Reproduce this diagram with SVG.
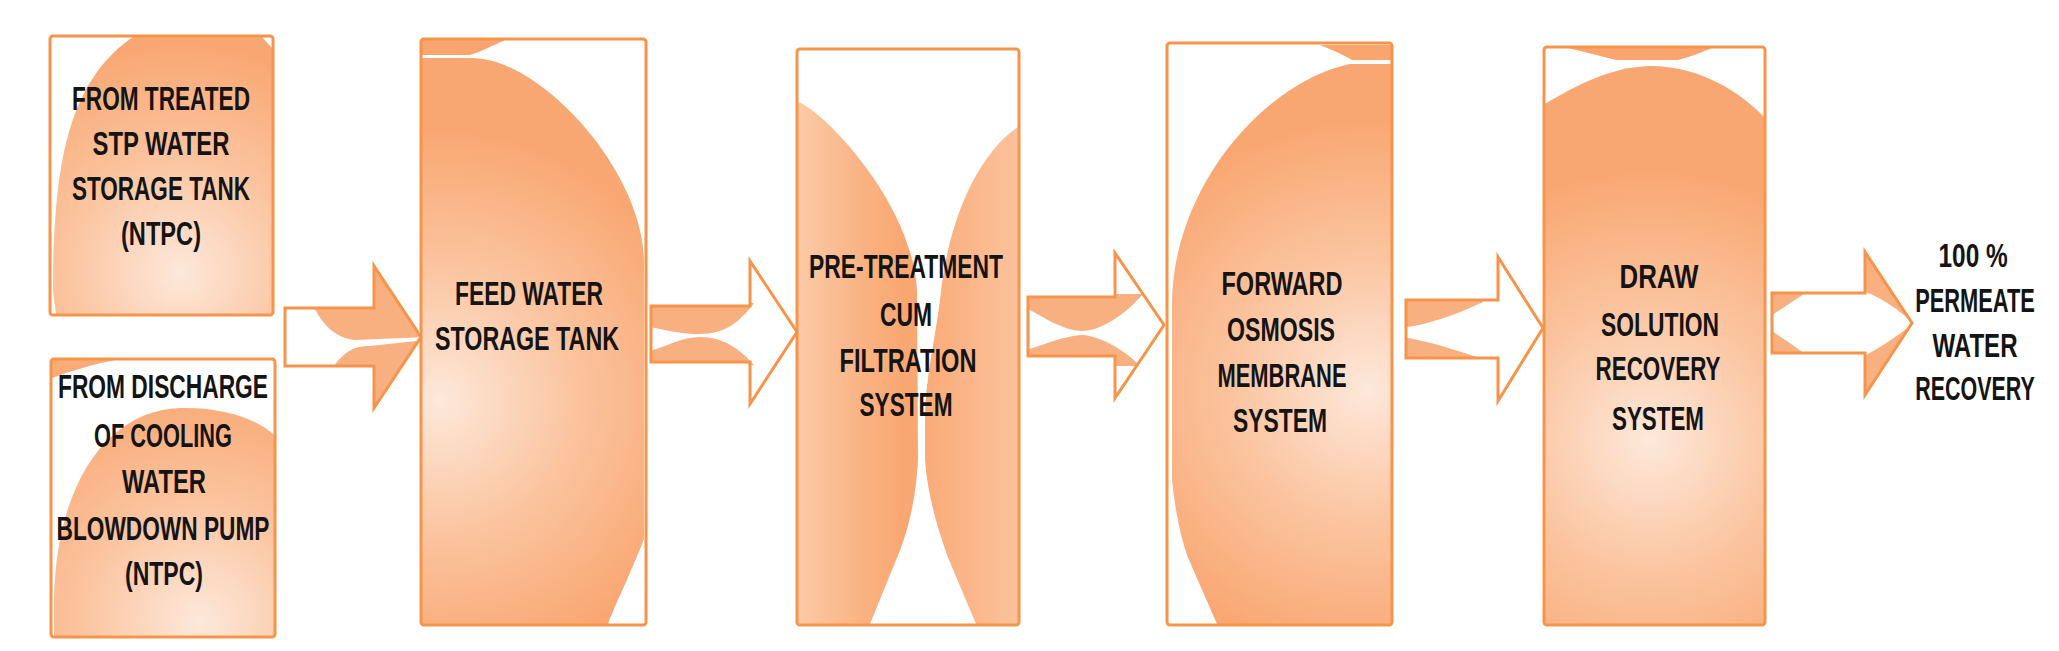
<svg xmlns="http://www.w3.org/2000/svg" width="2059" height="651" viewBox="0 0 2059 651">
<style>
.box{fill:none;stroke:#F7944A;stroke-width:3}
.arr{fill:none;stroke:#F7944A;stroke-width:3;stroke-linejoin:miter}
.lobe{fill:#F9B080}
.t{font-family:"Liberation Sans",Arial,sans-serif;font-weight:bold;font-size:34px;fill:#141414;text-anchor:middle}
</style>
<defs>
<radialGradient id="g1" gradientUnits="userSpaceOnUse" cx="180" cy="273" r="230"><stop offset="0" stop-color="#FDE8DA"/><stop offset="0.5" stop-color="#FBC49F"/><stop offset="1" stop-color="#F9A772"/></radialGradient>
<radialGradient id="g2" gradientUnits="userSpaceOnUse" cx="200" cy="622" r="240"><stop offset="0" stop-color="#FDE8DA"/><stop offset="0.5" stop-color="#FBC49F"/><stop offset="1" stop-color="#F9A772"/></radialGradient>
<radialGradient id="g3" gradientUnits="userSpaceOnUse" cx="440" cy="400" r="270"><stop offset="0" stop-color="#FDE8DA"/><stop offset="0.5" stop-color="#FBC49F"/><stop offset="1" stop-color="#F9A772"/></radialGradient>
<linearGradient id="g4" gradientUnits="userSpaceOnUse" x1="797" y1="0" x2="1019" y2="0"><stop offset="0" stop-color="#FCCBA8"/><stop offset="0.3" stop-color="#FAB282"/><stop offset="0.5" stop-color="#F9A670"/><stop offset="0.7" stop-color="#FAB282"/><stop offset="1" stop-color="#FBC29C"/></linearGradient>
<radialGradient id="g5" gradientUnits="userSpaceOnUse" cx="1367" cy="390" r="270"><stop offset="0" stop-color="#FDE8DA"/><stop offset="0.5" stop-color="#FBC49F"/><stop offset="1" stop-color="#F9A772"/></radialGradient>
<radialGradient id="g6" gradientUnits="userSpaceOnUse" cx="1650" cy="440" r="270"><stop offset="0" stop-color="#FDE8DA"/><stop offset="0.5" stop-color="#FBC49F"/><stop offset="1" stop-color="#F9A772"/></radialGradient>
<clipPath id="ca1"><path d="M285,308 L374,308 L374,266 L421,337 L374,408 L374,366 L285,366 Z"/></clipPath>
<clipPath id="ca2"><path d="M651,306 L750,306 L750,261 L797,332 L750,404 L750,362 L651,362 Z"/></clipPath>
<clipPath id="ca3"><path d="M1028,297 L1115,297 L1115,253 L1164,325 L1115,398 L1115,356 L1028,356 Z"/></clipPath>
<clipPath id="ca4"><path d="M1406,300 L1498,300 L1498,257 L1543,328 L1498,401 L1498,358 L1406,358 Z"/></clipPath>
<clipPath id="ca5"><path d="M1772,293 L1865,293 L1865,252 L1912,323 L1865,395 L1865,353 L1772,353 Z"/></clipPath>
</defs>
<rect width="2059" height="651" fill="#ffffff"/>

<g id="connectors">
 <g id="arrow1">
  <g clip-path="url(#ca1)">
   <path class="lobe" d="M310,300 C322,325 335,338 355,340 L425,337 L425,250 L310,250 Z"/>
   <path class="lobe" d="M331,370 C345,350 355,346 370,346 L425,340 L425,420 L331,420 Z"/>
  </g>
  <path class="arr" d="M285,308 L374,308 L374,266 L421,337 L374,408 L374,366 L285,366 Z"/>
 </g>
 <g id="arrow2">
  <g clip-path="url(#ca2)">
   <path class="lobe" d="M645,300 L645,326 C665,330 680,334 700,334 C725,334 740,322 754,303 Z"/>
   <path class="lobe" d="M645,368 L645,352 C665,348 680,337 700,337 C725,337 740,350 754,365 Z"/>
  </g>
  <path class="arr" d="M651,306 L750,306 L750,261 L797,332 L750,404 L750,362 L651,362 Z"/>
 </g>
 <g id="arrow3">
  <g clip-path="url(#ca3)">
   <path class="lobe" d="M1025,307 C1045,318 1062,330 1082,331 C1100,331 1125,315 1143,294 L1025,294 Z"/>
   <path class="lobe" d="M1025,350 C1045,345 1062,336 1082,335 C1100,336 1125,350 1140,366 L1025,366 Z"/>
  </g>
  <path class="arr" d="M1028,297 L1115,297 L1115,253 L1164,325 L1115,398 L1115,356 L1028,356 Z"/>
 </g>
 <g id="arrow4">
  <g clip-path="url(#ca4)">
   <path class="lobe" d="M1400,328 C1420,326 1450,318 1483,302 L1483,290 L1400,290 Z"/>
   <path class="lobe" d="M1400,337 C1420,339 1450,348 1480,358 L1480,370 L1400,370 Z"/>
  </g>
  <path class="arr" d="M1406,300 L1498,300 L1498,257 L1543,328 L1498,401 L1498,358 L1406,358 Z"/>
 </g>
 <g id="arrow5">
  <g clip-path="url(#ca5)">
   <path class="lobe" d="M1770,290 L1810,290 C1795,300 1782,308 1770,317 Z"/>
   <path class="lobe" d="M1770,330 C1782,338 1795,346 1807,356 L1770,356 Z"/>
   <path class="lobe" d="M1866,250 L1866,292 C1885,300 1898,310 1910,320 L1920,320 L1920,250 Z"/>
   <path class="lobe" d="M1866,396 L1866,355 C1885,345 1898,335 1910,326 L1920,326 L1920,396 Z"/>
  </g>
  <path class="arr" d="M1772,293 L1865,293 L1865,252 L1912,323 L1865,395 L1865,353 L1772,353 Z"/>
 </g>
</g>

<g id="node-stp">
 <path fill="url(#g1)" d="M133,37 L262,37 L272,48 L272,314 L56,314 C54,300 53,292 53,288 C53,160 70,80 133,37 Z"/>
 <rect class="box" x="50" y="36" width="223" height="279" rx="3"/>
 <text class="t" x="161" y="110" textLength="178" lengthAdjust="spacingAndGlyphs">FROM TREATED</text>
 <text class="t" x="161" y="155" textLength="137" lengthAdjust="spacingAndGlyphs">STP WATER</text>
 <text class="t" x="161" y="200" textLength="178" lengthAdjust="spacingAndGlyphs">STORAGE TANK</text>
 <text class="t" x="161" y="245" textLength="80" lengthAdjust="spacingAndGlyphs">(NTPC)</text>
</g>

<g id="node-blowdown">
 <path fill="url(#g2)" d="M54,600 C56,480 110,410 180,408 C225,407 258,420 274,435 L274,636 L54,636 Z"/>
 <path fill="#F9AC78" d="M52,360 L115,360 C90,365 68,372 52,378 Z"/>
 <rect class="box" x="51" y="359" width="224" height="278" rx="3"/>
 <text class="t" x="163" y="398" textLength="210" lengthAdjust="spacingAndGlyphs">FROM DISCHARGE</text>
 <text class="t" x="163" y="447" textLength="138" lengthAdjust="spacingAndGlyphs">OF COOLING</text>
 <text class="t" x="164" y="493" textLength="84" lengthAdjust="spacingAndGlyphs">WATER</text>
 <text class="t" x="163" y="540" textLength="213" lengthAdjust="spacingAndGlyphs">BLOWDOWN PUMP</text>
 <text class="t" x="164" y="585" textLength="78" lengthAdjust="spacingAndGlyphs">(NTPC)</text>
</g>

<g id="node-feed">
 <path fill="url(#g3)" d="M422,58 L472,58 C540,58 643,170 644,261 L644,539 C630,575 615,605 608,624 L422,624 Z"/>
 <path fill="#F9A570" d="M422,40 L505,40 C492,46 480,52 470,55 L422,55 Z"/>
 <rect class="box" x="421" y="39" width="225" height="586" rx="3"/>
 <text class="t" x="529" y="305" textLength="148" lengthAdjust="spacingAndGlyphs">FEED WATER</text>
 <text class="t" x="527" y="350" textLength="184" lengthAdjust="spacingAndGlyphs">STORAGE TANK</text>
</g>

<g id="node-pretreat">
 <path fill="url(#g4)" d="M798,102 C820,108 912,200 917,290 L918,459 C916,505 905,540 896,560 L870,624 L798,624 Z"/>
 <path fill="url(#g4)" d="M1018,127 C990,145 950,200 940,300 C935,340 925,380 925,420 L925,460 C928,500 940,535 949,560 L976,624 L1018,624 Z"/>
 <rect class="box" x="797" y="49" width="222" height="576" rx="3"/>
 <text class="t" x="906" y="278" textLength="194" lengthAdjust="spacingAndGlyphs">PRE-TREATMENT</text>
 <text class="t" x="906" y="326" textLength="52" lengthAdjust="spacingAndGlyphs">CUM</text>
 <text class="t" x="908" y="372" textLength="137" lengthAdjust="spacingAndGlyphs">FILTRATION</text>
 <text class="t" x="906" y="416" textLength="93" lengthAdjust="spacingAndGlyphs">SYSTEM</text>
</g>

<g id="node-fo">
 <path fill="url(#g5)" d="M1391,64 L1350,64 C1270,80 1175,180 1172,300 L1172,480 C1176,520 1184,548 1189,560 L1217,624 L1391,624 Z"/>
 <path fill="#F9A570" d="M1320,45 L1391,45 L1391,60 L1352,60 C1342,54 1330,49 1320,45 Z"/>
 <rect class="box" x="1167" y="43" width="225" height="582" rx="3"/>
 <text class="t" x="1282" y="295" textLength="121" lengthAdjust="spacingAndGlyphs">FORWARD</text>
 <text class="t" x="1281" y="341" textLength="108" lengthAdjust="spacingAndGlyphs">OSMOSIS</text>
 <text class="t" x="1282" y="387" textLength="129" lengthAdjust="spacingAndGlyphs">MEMBRANE</text>
 <text class="t" x="1280" y="432" textLength="94" lengthAdjust="spacingAndGlyphs">SYSTEM</text>
</g>

<g id="node-draw">
 <path fill="url(#g6)" d="M1545,104 C1575,86 1610,67 1650,66 C1700,66 1740,92 1764,117 L1764,624 L1545,624 Z"/>
 <path fill="#F9A570" d="M1568,48 L1712,48 C1700,53 1690,57 1678,60 L1616,60 C1600,56 1585,52 1568,48 Z"/>
 <rect class="box" x="1544" y="47" width="221" height="578" rx="3"/>
 <text class="t" x="1659" y="288" textLength="79" lengthAdjust="spacingAndGlyphs">DRAW</text>
 <text class="t" x="1660" y="336" textLength="118" lengthAdjust="spacingAndGlyphs">SOLUTION</text>
 <text class="t" x="1658" y="380" textLength="125" lengthAdjust="spacingAndGlyphs">RECOVERY</text>
 <text class="t" x="1658" y="430" textLength="92" lengthAdjust="spacingAndGlyphs">SYSTEM</text>
</g>

<g id="node-permeate" transform="translate(1975,0) scale(0.64,1)">
 <text class="t" x="-3" y="267" textLength="108" lengthAdjust="spacingAndGlyphs">100 %</text>
 <text class="t" x="0" y="312" textLength="187" lengthAdjust="spacingAndGlyphs">PERMEATE</text>
 <text class="t" x="0" y="357" textLength="133" lengthAdjust="spacingAndGlyphs">WATER</text>
 <text class="t" x="0" y="400" textLength="187" lengthAdjust="spacingAndGlyphs">RECOVERY</text>
</g>
</svg>
